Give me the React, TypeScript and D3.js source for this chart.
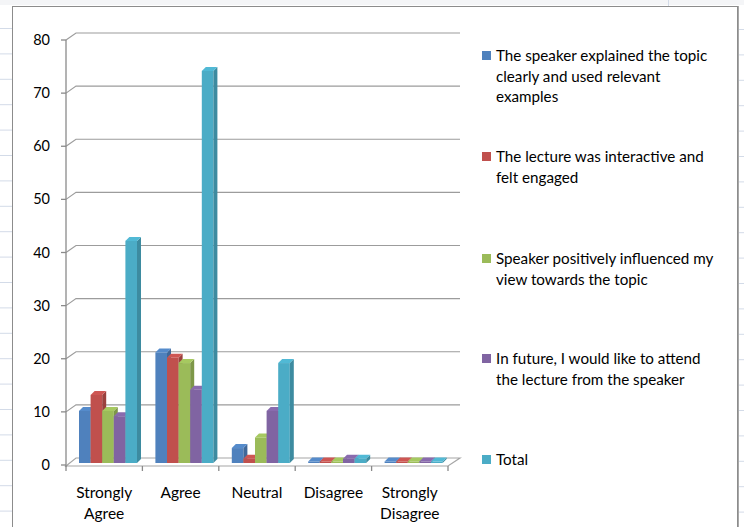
import React from "react";
import * as d3 from "d3";

const categories = ["Strongly Agree", "Agree", "Neutral", "Disagree", "Strongly Disagree"];
const categoryLines = [["Strongly", "Agree"], ["Agree"], ["Neutral"], ["Disagree"], ["Strongly", "Disagree"]];
const seriesNames = [
  "The speaker explained the topic clearly and used relevant examples",
  "The lecture was interactive and felt engaged",
  "Speaker positively influenced my view towards the topic",
  "In future, I would like to attend the lecture from the speaker",
  "Total",
];
const legendLines = [
  ["The speaker explained the topic", "clearly and used relevant", "examples"],
  ["The lecture was interactive and", "felt engaged"],
  ["Speaker positively influenced my", "view towards the topic"],
  ["In future, I would like to attend", "the lecture from the speaker"],
  ["Total"],
];
const explainedValues = [10, 21, 3, 0, 0];
const interactiveValues = [13, 20, 1, 0, 0];
const influencedValues = [10, 19, 5, 0, 0];
const futureValues = [9, 14, 10, 1, 0];
const totalValues = [42, 74, 19, 1, 0];
const seriesValues = [explainedValues, interactiveValues, influencedValues, futureValues, totalValues];
const yTicks = [0, 10, 20, 30, 40, 50, 60, 70, 80];

const colors = ["#4F81BD", "#C0504D", "#9BBB59", "#8064A2", "#4BACC6"];

const FONT = "Lato, 'Open Sans', sans-serif";

export default function App() {
  const W = 744, H = 527;
  const x = d3.scaleBand<string>().domain(categories).range([66, 448]).padding(0);
  const y = d3.scaleLinear().domain([0, 80]).range([465, 40]);
  const sub = d3.scaleBand<number>().domain(d3.range(5)).range([13, 71]).padding(0);
  const DX = 10, DY = -7;
  const bdx = 4, bdy = -4;
  const base = 463;
  const darker = (c: string) => d3.color(c)!.darker(0.6).formatHex();
  const lighter = (c: string) => d3.color(c)!.brighter(0.2).formatHex();

  const rows = d3.range(0, 21).map((i) => 28.5 + i * 25.4);

  return (
    <svg width={W} height={H} style={{ position: "absolute", left: 0, top: 0, background: "#fff" }}>
      {/* spreadsheet background */}
      <rect x={0} y={0} width={W} height={H} fill="#ffffff" />
      <rect x={0} y={0} width={W} height={5} fill="#f4f5f7" />
      {rows.map((r, i) => (
        <g key={i}>
          <line x1={0} x2={12} y1={r} y2={r} stroke="#d3dbe8" />
          <line x1={739} x2={744} y1={r + 1} y2={r + 1} stroke="#d3dbe8" />
        </g>
      ))}
      <line x1={668.5} x2={668.5} y1={0} y2={6} stroke="#d3dbe8" />
      {/* chart area */}
      <rect x={12.5} y={6.5} width={725} height={H} fill="#ffffff" stroke="#8c8c8c" strokeWidth={1} />
      <line x1={738.5} x2={738.5} y1={6} y2={H} stroke="#a8a8a8" strokeWidth={1} />

      {/* gridlines on back wall */}
      {yTicks.filter((t) => t > 0).map((t) => (
        <path
          key={t}
          d={`M66,${y(t)} L${66 + DX},${y(t) + DY} L460,${y(t) + DY}`}
          fill="none"
          stroke="#9c9c9c"
          strokeWidth={1.2}
        />
      ))}
      {/* floor */}
      <path d={`M66,466 L448,466 L460,458 L${66 + DX},458 Z`} fill="#ffffff" stroke="#a6a6a6" strokeWidth={1.2} />
      {/* y axis */}
      <line x1={66} x2={66} y1={y(80)} y2={467} stroke="#8a8a8a" strokeWidth={1.3} />
      {yTicks.map((t) => (
        <g key={t}>
          <line x1={61} x2={66} y1={y(t)} y2={y(t)} stroke="#8a8a8a" strokeWidth={1.3} />
          <text x={50} y={y(t) + 5} textAnchor="end" fontFamily={FONT} fontSize={14.5} fill="#000">
            {t}
          </text>
        </g>
      ))}
      {/* x axis ticks */}
      {[...categories.map((c) => x(c)!), 448].map((px, i) => (
        <line key={i} x1={px} x2={px} y1={466} y2={471} stroke="#8a8a8a" strokeWidth={1.3} />
      ))}

      {/* bars */}
      {categories.map((c, ci) => (
        <g key={c}>
          {seriesValues.map((vals, si) => {
            const x0 = x(c)! + sub(si)!;
            const w = sub.bandwidth();
            const top = Math.min(y(vals[ci]) - 1, base - 1.5);
            const col = colors[si];
            return (
              <g key={si}>
                <rect x={x0} y={top} width={w} height={base - top} fill={col} />
                <path
                  d={`M${x0 + w},${top} L${x0 + w + bdx},${top + bdy} L${x0 + w + bdx},${base + bdy} L${x0 + w},${base} Z`}
                  fill={darker(col)}
                />
                <path
                  d={`M${x0},${top} L${x0 + bdx},${top + bdy} L${x0 + w + bdx},${top + bdy} L${x0 + w},${top} Z`}
                  fill={lighter(col)}
                />
              </g>
            );
          })}
        </g>
      ))}

      {/* x labels */}
      {categories.map((c, ci) => (
        <text key={c} textAnchor="middle" fontFamily={FONT} fontSize={15.5} fill="#000">
          {categoryLines[ci].map((ln, li) => (
            <tspan key={li} x={x(c)! + x.bandwidth() / 2} y={498 + li * 21}>
              {ln}
            </tspan>
          ))}
        </text>
      ))}

      {/* legend */}
      {seriesNames.map((name, si) => {
        const cy = [56, 157, 259, 359, 460][si];
        return (
          <g key={name}>
            <rect x={482} y={cy - 5} width={9} height={9} fill={colors[si]} />
            <text fontFamily={FONT} fontSize={15.2} fill="#000">
              {legendLines[si].map((ln, li) => (
                <tspan key={li} x={496} y={cy + 5 + li * 20.5}>
                  {ln}
                </tspan>
              ))}
            </text>
          </g>
        );
      })}
    </svg>
  );
}
